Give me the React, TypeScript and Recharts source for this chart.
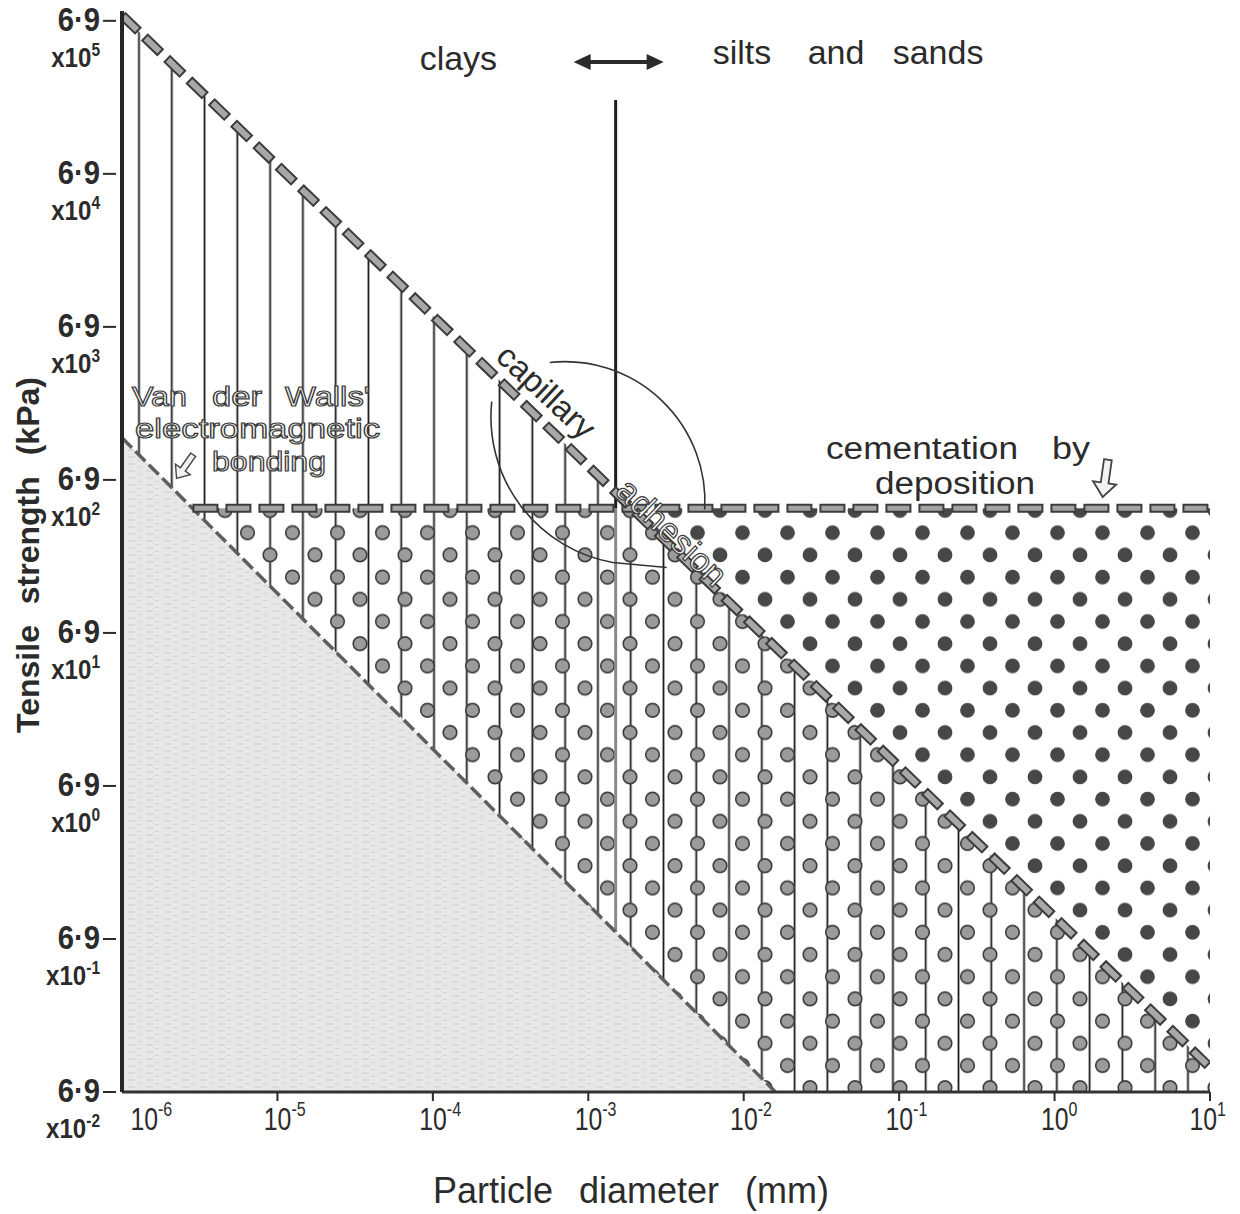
import React from "react"
import { ComposedChart, Area, Line, XAxis, YAxis, ReferenceLine, ReferenceDot } from "recharts"

// particle diameter (mm) and tensile strength (kPa), both log scaled
const xTicks = [1e-6, 1e-5, 1e-4, 1e-3, 1e-2, 1e-1, 1, 10]
const yTicks = [6.9e-2, 6.9e-1, 6.9, 6.9e1, 6.9e2, 6.9e3, 6.9e4, 6.9e5]
const yTickExponents = [-2, -1, 0, 1, 2, 3, 4, 5]

// bonding limits, each a straight line on log-log axes
const capillary = [
  { d: 1e-6, t: 7.5e5 },
  { d: 10, t: 0.1 },
]
const vanDerWaals = [
  { d: 1e-6, t: 1300 },
  { d: 0.016, t: 0.069 },
]
const cementation = 450
const claySiltBoundary = { d: 1.5e-3, top: 2.1e5 }

const X_MIN = 1e-6
const X_MAX = 10
const Y_MIN = 0.069
const Y_MAX = 8e5

const FONT = "'Liberation Sans', Arial, Helvetica, sans-serif"
const INK = "#2b2b2b"

type Pt = { d: number; t: number }

const slope = ([a, b]: Pt[]) => Math.log10(b.t / a.t) / Math.log10(b.d / a.d)
const along = (line: Pt[], d: number) => line[0].t * Math.pow(d / line[0].d, slope(line))
const crossing = (line: Pt[], t: number) => line[0].d * Math.pow(t / line[0].t, 1 / slope(line))

const dVdwCement = crossing(vanDerWaals, cementation)
const dCapCement = crossing(capillary, cementation)
const dVdwEnd = vanDerWaals[1].d

const rows = [X_MIN, dVdwCement, dCapCement, dVdwEnd, X_MAX].map((d, i) => {
  const cap = along(capillary, d)
  const vdw = along(vanDerWaals, d)
  const floor = Math.max(vdw, Y_MIN)
  return {
    d,
    cap,
    vdw: i <= 3 ? floor : null,
    cement: i >= 1 ? cementation : null,
    gray: i <= 3 ? [Y_MIN, floor] : null,
    hatch: [floor, cap],
    dotsUnder: i >= 1 ? [floor, Math.min(cap, cementation)] : null,
    dotsOver: i >= 2 ? [cap, cementation] : null,
  }
})

const HATCH_STEP = 32.78
const HATCH_X0 = 139

const renderXTick = (props: any) => {
  const { x, y, payload } = props
  const i = xTicks.indexOf(payload.value)
  const exp = Math.round(Math.log10(payload.value))
  const shift = i === 0 ? 22 : i === xTicks.length - 1 ? -7 : 0
  return (
    <g transform={`translate(${x},${y})`}>
      {i > 0 && <line x1={0} x2={0} y1={0} y2={9} stroke={INK} strokeWidth={2} />}
      <g transform={`translate(${shift},0) scale(0.8,1)`}>
        <text x={-17} y={38} fontSize={31} fill={INK} fontFamily={FONT}>
          10<tspan dy={-14} fontSize={20}>{exp}</tspan>
        </text>
      </g>
    </g>
  )
}

const renderYTick = (props: any) => {
  const { x, y, payload } = props
  const exp = yTickExponents[yTicks.indexOf(payload.value)]
  return (
    <g transform={`translate(${x},${y})`}>
      <line x1={-19} x2={-6} y1={0} y2={0} stroke={INK} strokeWidth={2} />
      <g transform="translate(-22,0) scale(0.86,1)" fill={INK} fontFamily={FONT} fontWeight="bold">
        <text x={0} y={10} textAnchor="end" fontSize={34}>
          6·9
        </text>
        <text x={0} y={46} textAnchor="end" fontSize={28}>
          x10<tspan dy={-11} fontSize={18}>{exp}</tspan>
        </text>
      </g>
    </g>
  )
}

// text and sketches pinned to a point in data space
const note = (key: string, d: number, t: number, body: React.ReactNode) => (
  <ReferenceDot
    key={key}
    x={d}
    y={t}
    r={0}
    ifOverflow="visible"
    shape={(p: any) => <g transform={`translate(${p.cx},${p.cy})`}>{body}</g>}
  />
)

const hollow = { fill: "#f6f6f6", stroke: "#3a3a3a", strokeWidth: 1.2 }

const arrowHead = (
  <path d="M -3 -16 L 3 -16 L 3 2 L 9 2 L 0 13 L -9 2 L -3 2 Z" fill="#f2f2f2" stroke="#444" strokeWidth={1.4} />
)

export default function App() {
  return (
    <div style={{ position: "absolute", left: 0, top: 0, width: 1240, height: 1214, background: "#fff" }}>
      <svg width={0} height={0} style={{ position: "absolute" }}>
        <defs>
          <pattern id="vhatch" patternUnits="userSpaceOnUse" x={HATCH_X0 - HATCH_STEP / 2} y={0} width={HATCH_STEP} height={40}>
            <line x1={HATCH_STEP / 2} x2={HATCH_STEP / 2} y1={0} y2={40} stroke="#1a1a1a" strokeWidth={1.8} />
          </pattern>
          <pattern id="dotsDark" patternUnits="userSpaceOnUse" x={0} y={566} width={45} height={44.4}>
            <circle cx={22.5} cy={11.1} r={7.4} fill="#474747" />
            <circle cx={0} cy={33.3} r={7.4} fill="#474747" />
            <circle cx={45} cy={33.3} r={7.4} fill="#474747" />
          </pattern>
          <pattern id="dotsLight" patternUnits="userSpaceOnUse" x={0} y={566} width={45} height={44.4}>
            <circle cx={22.5} cy={11.1} r={6.8} fill="#9b9b9b" stroke="#3d3d3d" strokeWidth={1.6} />
            <circle cx={0} cy={33.3} r={6.8} fill="#9b9b9b" stroke="#3d3d3d" strokeWidth={1.6} />
            <circle cx={45} cy={33.3} r={6.8} fill="#9b9b9b" stroke="#3d3d3d" strokeWidth={1.6} />
          </pattern>
          <pattern id="stipple" patternUnits="userSpaceOnUse" width={18} height={7}>
            <rect width={18} height={7} fill="#e7e7e7" />
            <line x1={2} x2={9} y1={2} y2={2} stroke="#cdcdcd" strokeWidth={1} />
            <line x1={11} x2={15} y1={5.5} y2={5.5} stroke="#d3d3d3" strokeWidth={1} />
          </pattern>
        </defs>
      </svg>
      <ComposedChart width={1240} height={1214} data={rows} margin={{ top: 11, right: 30, bottom: 22, left: 0 }}>
        <XAxis
          dataKey="d"
          type="number"
          scale="log"
          domain={[X_MIN, X_MAX]}
          allowDataOverflow
          ticks={xTicks}
          interval={0}
          tick={renderXTick}
          tickLine={false}
          tickSize={0}
          tickMargin={0}
          height={100}
          axisLine={{ stroke: "#333", strokeWidth: 3 }}
        />
        <YAxis
          type="number"
          scale="log"
          domain={[Y_MIN, Y_MAX]}
          allowDataOverflow
          ticks={yTicks}
          interval={0}
          tick={renderYTick}
          tickLine={false}
          tickSize={0}
          tickMargin={0}
          width={122}
          axisLine={{ stroke: "#262626", strokeWidth: 4 }}
        />

        <Area dataKey="gray" type="linear" stroke="none" fill="url(#stipple)" fillOpacity={1} isAnimationActive={false} dot={false} activeDot={false} />
        <Area dataKey="hatch" type="linear" stroke="none" fill="url(#vhatch)" fillOpacity={1} isAnimationActive={false} dot={false} activeDot={false} />
        <Area dataKey="dotsUnder" type="linear" stroke="none" fill="url(#dotsLight)" fillOpacity={1} isAnimationActive={false} dot={false} activeDot={false} />
        <Area dataKey="dotsOver" type="linear" stroke="none" fill="url(#dotsDark)" fillOpacity={1} isAnimationActive={false} dot={false} activeDot={false} />

        {/* clay / silt boundary: solid above the cementation level, faint below it */}
        <ReferenceLine
          segment={[
            { x: claySiltBoundary.d, y: cementation },
            { x: claySiltBoundary.d, y: along(vanDerWaals, claySiltBoundary.d) },
          ]}
          stroke="#8a8a8a"
          strokeWidth={3}
        />
        <ReferenceLine
          segment={[
            { x: claySiltBoundary.d, y: claySiltBoundary.top },
            { x: claySiltBoundary.d, y: cementation },
          ]}
          stroke="#1e1e1e"
          strokeWidth={3}
        />

        <Line dataKey="vdw" type="linear" stroke="#5e5e5e" strokeWidth={3.5} strokeDasharray="14 5" dot={false} activeDot={false} isAnimationActive={false} />
        <Line dataKey="cement" type="linear" stroke="#3c3c3c" strokeWidth={9} strokeDasharray="26 7" dot={false} activeDot={false} isAnimationActive={false} />
        <Line dataKey="cement" type="linear" stroke="#a3a3a3" strokeWidth={5} strokeDasharray="22 11" strokeDashoffset={-2} dot={false} activeDot={false} isAnimationActive={false} />
        <Line dataKey="cap" type="linear" stroke="#3c3c3c" strokeWidth={10} strokeDasharray="23 8" dot={false} activeDot={false} isAnimationActive={false} />
        <Line dataKey="cap" type="linear" stroke="#a8a8a8" strokeWidth={6} strokeDasharray="19 12" strokeDashoffset={-2} dot={false} activeDot={false} isAnimationActive={false} />

        {/* two hand-drawn arcs round the capillary / adhesion crossing */}
        {note(
          "ring",
          1.15e-3,
          870,
          <g fill="none" stroke="#333" strokeWidth={1.6}>
            <path d="M -48 -102 A 140 140 0 0 1 107 45" />
            <path d="M -106 -63 A 148 148 0 0 0 15 98 L 69 103" />
          </g>
        )}

        {note(
          "header",
          claySiltBoundary.d,
          claySiltBoundary.top,
          <g fontFamily={FONT} fontSize={34} fill={INK}>
            <text x={-196} y={-30}>clays</text>
            <line x1={-30} x2={36} y1={-38} y2={-38} stroke={INK} strokeWidth={4} />
            <path d="M -42 -38 L -25 -46 L -25 -30 Z M 48 -38 L 31 -46 L 31 -30 Z" fill={INK} />
            <text x={97} y={-36}>silts</text>
            <text x={192} y={-36}>and</text>
            <text x={277} y={-36}>sands</text>
          </g>
        )}

        {note(
          "capillary",
          4.2e-4,
          along(capillary, 4.2e-4),
          <g transform="rotate(43)">
            <text x={0} y={-13} textAnchor="middle" fontFamily={FONT} fontSize={33} fill={INK}>
              capillary
            </text>
          </g>
        )}

        {note(
          "adhesion",
          3.1e-3,
          along(capillary, 3.1e-3),
          <g transform="rotate(44)">
            <text x={0} y={1} textAnchor="middle" fontFamily={FONT} fontSize={34} {...hollow}>
              adhesion
            </text>
          </g>
        )}

        {note(
          "vdw",
          X_MIN,
          vanDerWaals[0].t,
          <g fontFamily={FONT} fontSize={28.5} {...hollow}>
            <text x={10} y={-32} textLength={55} lengthAdjust="spacingAndGlyphs">
              Van
            </text>
            <text x={90} y={-32} textLength={50} lengthAdjust="spacingAndGlyphs">
              der
            </text>
            <text x={163} y={-32} textLength={85} lengthAdjust="spacingAndGlyphs">
              Walls'
            </text>
            <text x={13} y={0} textLength={245} lengthAdjust="spacingAndGlyphs">
              electromagnetic
            </text>
            <text x={90} y={33} textLength={114} lengthAdjust="spacingAndGlyphs">
              bonding
            </text>
            <g transform="translate(62,30) rotate(35)">{arrowHead}</g>
          </g>
        )}

        {note(
          "cement",
          X_MAX,
          cementation,
          <g fontFamily={FONT} fontSize={31} fill={INK}>
            <text x={-384} y={-49} textLength={192} lengthAdjust="spacingAndGlyphs">
              cementation
            </text>
            <text x={-158} y={-49} textLength={38} lengthAdjust="spacingAndGlyphs">
              by
            </text>
            <text x={-335} y={-14} textLength={160} lengthAdjust="spacingAndGlyphs">
              deposition
            </text>
            <g transform="translate(-105,-28) rotate(8) scale(1.3)">{arrowHead}</g>
          </g>
        )}

        {note(
          "titles",
          X_MIN,
          Y_MIN,
          <g fontFamily={FONT} fill={INK}>
            <text x={311} y={111} fontSize={36} wordSpacing={16}>
              Particle diameter (mm)
            </text>
            <g transform="translate(-83,-537) rotate(-90)">
              <text x={0} y={0} textAnchor="middle" fontSize={32} fontWeight="bold" wordSpacing={12}>
                Tensile strength (kPa)
              </text>
            </g>
          </g>
        )}
      </ComposedChart>
    </div>
  )
}
